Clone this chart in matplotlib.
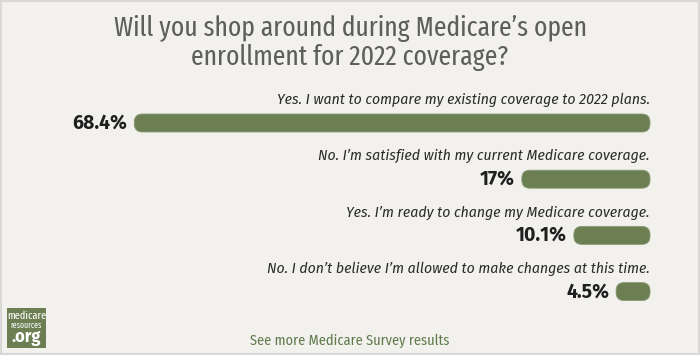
import matplotlib
matplotlib.use("Agg")
import matplotlib.pyplot as plt
from matplotlib.patches import FancyBboxPatch, Rectangle

# data
answers = [
    "Yes. I want to compare my existing coverage to 2022 plans.",
    "No. I\u2019m satisfied with my current Medicare coverage.",
    "Yes. I\u2019m ready to change my Medicare coverage.",
    "No. I don\u2019t believe I\u2019m allowed to make changes at this time.",
]
shares = [68.4, 17, 10.1, 4.5]
share_labels = ["68.4%", "17%", "10.1%", "4.5%"]

title = "Will you shop around during Medicare\u2019s open\nenrollment for 2022 coverage?"
footer = "See more Medicare Survey results"

BG = "#f2f1ee"
GREEN = "#6b7f52"
COND = ["Fira Sans Condensed", "DejaVu Sans"]
XCOND = ["Fira Sans Extra Condensed", "Fira Sans Condensed", "DejaVu Sans"]
WIDE = ["Fira Sans", "DejaVu Sans"]

W, H = 700, 355
fig = plt.figure(figsize=(W / 100, H / 100), dpi=100)
fig.patch.set_facecolor(BG)
ax = fig.add_axes([0, 0, 1, 1])
ax.set_xlim(0, W)
ax.set_ylim(H, 0)
ax.axis("off")

# frame
ax.add_patch(Rectangle((1, 1), W - 2, H - 2, fill=False, ec="#d9d8d4", lw=1.5))

ax.text(W / 2, 43, title, ha="center", va="center", fontsize=20, color="#5e5e5e",
        family=XCOND, linespacing=1.08)

right = 650
px_per_pct = 7.54
bar_h = 18
y0, step = 123, 56.2
for i, (lab, v, s) in enumerate(zip(answers, shares, share_labels)):
    yc = y0 + i * step
    w = v * px_per_pct
    ax.add_patch(FancyBboxPatch((right - w, yc - bar_h / 2), w, bar_h,
                                boxstyle="round,pad=0,rounding_size=8",
                                fc=GREEN, ec="#8a9a74", lw=0.6))
    ax.text(right, yc - 23, lab, ha="right", va="center", fontsize=11.2,
            style="italic", color="#2b2b2b", family=COND)
    ax.text(right - w - 7, yc, s, ha="right", va="center", fontsize=14,
            weight="bold", color="#1f1f1f", family=WIDE)

# logo
ax.add_patch(Rectangle((7, 308), 39, 40, fc=GREEN, ec="none"))
ax.text(26.5, 316, "medicare", ha="center", va="center", fontsize=8, color="white", family=XCOND)
ax.text(26.5, 325, "resources", ha="center", va="center", fontsize=6, color="white", family=XCOND)
ax.text(26.5, 337, ".org", ha="center", va="center", fontsize=13, color="white",
        family=COND, weight="bold")

ax.text(W / 2, 341, footer, ha="center", va="center", fontsize=10.3, color="#5f7a4b",
        family=COND)

fig.savefig("out.png", dpi=100, facecolor=BG)
